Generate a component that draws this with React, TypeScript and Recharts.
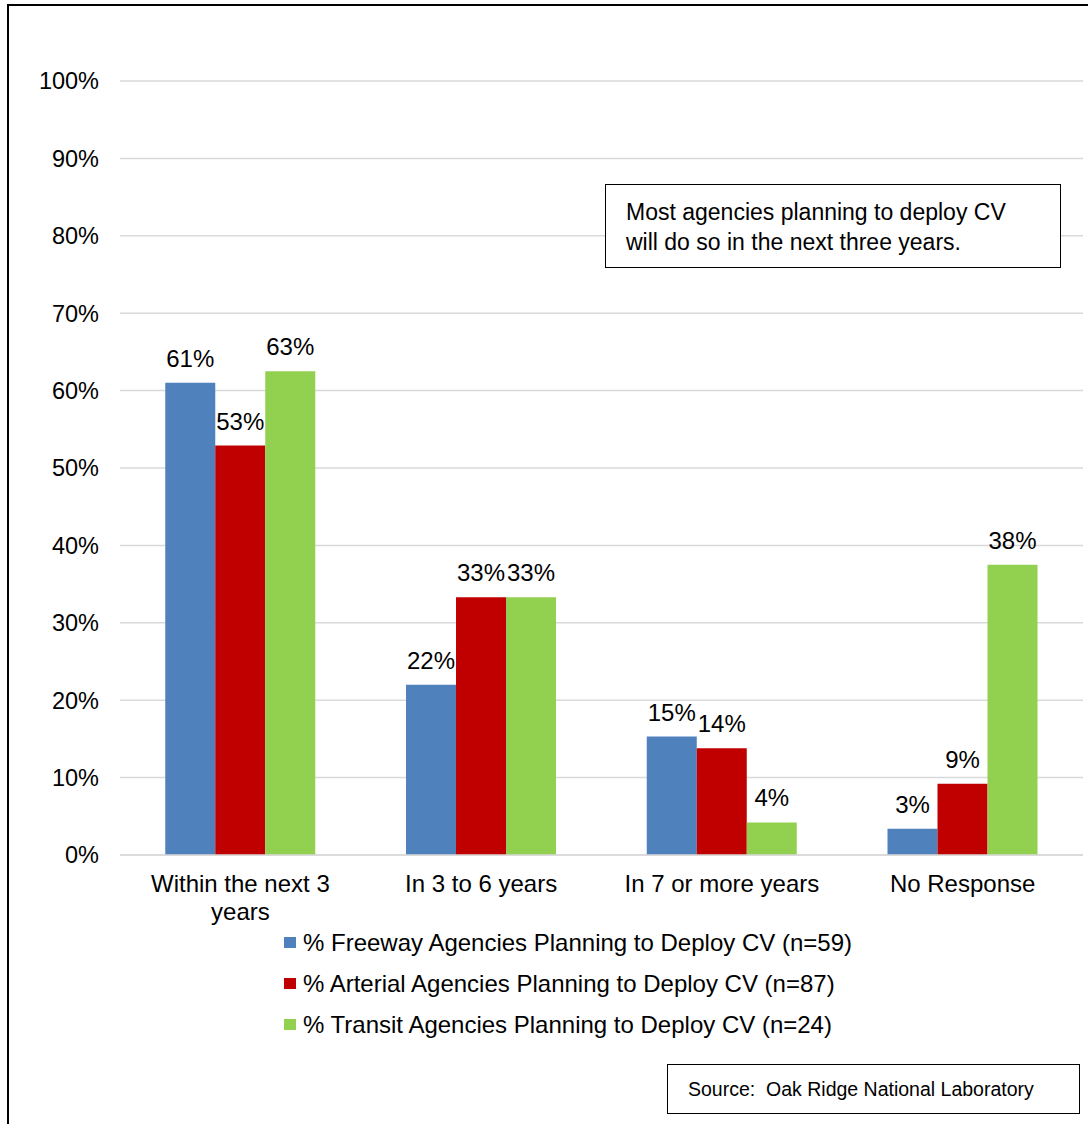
import React from 'react';
import { BarChart, Bar, XAxis, YAxis, CartesianGrid, LabelList } from 'recharts';

const categories = ['Within the next 3 years', 'In 3 to 6 years', 'In 7 or more years', 'No Response'];
const categoryTickLines = [['Within the next 3', 'years'], ['In 3 to 6 years'], ['In 7 or more years'], ['No Response']];
const freewayValues = [61.0, 22.0, 15.3, 3.4];
const arterialValues = [52.9, 33.3, 13.8, 9.2];
const transitValues = [62.5, 33.3, 4.2, 37.5];
const yTicks = [0, 10, 20, 30, 40, 50, 60, 70, 80, 90, 100];

const seriesKeys = ['freeway', 'arterial', 'transit'];
const seriesNames = [
  '% Freeway Agencies Planning to Deploy CV (n=59)',
  '% Arterial Agencies Planning to Deploy CV (n=87)',
  '% Transit Agencies Planning to Deploy CV (n=24)',
];
const seriesColors = ['#4F81BD', '#C00000', '#92D050'];

const annotationLines = ['Most agencies planning to deploy CV', 'will do so in the next three years.'];
const sourceText = 'Source:  Oak Ridge National Laboratory';

const data = categories.map((c, i) => ({
  category: c,
  freeway: freewayValues[i],
  arterial: arterialValues[i],
  transit: transitValues[i],
}));

const FONT = '"Liberation Sans", Arial, sans-serif';

const XTick = (props: any) => {
  const { x, y, index } = props;
  const lines = categoryTickLines[index] || [props.payload.value];
  return (
    <text x={x} y={y} textAnchor="middle" fill="#000" style={{ fontSize: 24, fontFamily: FONT }}>
      {lines.map((l: string, i: number) => (
        <tspan key={i} x={x} dy={i === 0 ? 17 : 28}>
          {l}
        </tspan>
      ))}
    </text>
  );
};

export default function App() {
  return (
    <div
      style={{
        position: 'absolute',
        left: 0,
        top: 0,
        width: 1088,
        height: 1124,
        background: '#fff',
        fontFamily: FONT,
        overflow: 'hidden',
      }}
    >
      <BarChart
        width={1088}
        height={1124}
        data={data}
        margin={{ top: 81, right: 5, bottom: 239, left: 0 }}
        barCategoryGap="18.8%"
        barGap={0}
      >
        <CartesianGrid vertical={false} stroke="#D9D9D9" strokeWidth={1.5} />
        <YAxis
          domain={[0, 100]}
          ticks={yTicks}
          tickFormatter={(v: number) => `${v}%`}
          axisLine={false}
          tickLine={false}
          tickSize={0}
          tickMargin={21}
          width={120}
          interval={0}
          tick={{ fill: '#000', fontSize: 23.5, fontFamily: FONT }}
        />
        <XAxis
          dataKey="category"
          axisLine={{ stroke: '#D9D9D9', strokeWidth: 1.5 }}
          tickLine={false}
          tickSize={0}
          tickMargin={20}
          interval={0}
          tick={<XTick />}
        />
        {seriesKeys.map((k, i) => (
          <Bar key={k} dataKey={k} name={seriesNames[i]} fill={seriesColors[i]} isAnimationActive={false}>
            <LabelList
              dataKey={k}
              position="top"
              offset={16}
              formatter={(v: any) => `${Math.round(Number(v))}%`}
              fill="#000"
              style={{ fontSize: 24, fontFamily: FONT }}
            />
          </Bar>
        ))}
      </BarChart>

      {/* outer frame */}
      <div
        style={{
          position: 'absolute',
          left: 7,
          top: 4,
          width: 1100,
          height: 1130,
          borderLeft: '2px solid #000',
          borderTop: '2px solid #000',
          boxSizing: 'border-box',
          pointerEvents: 'none',
        }}
      />

      {/* legend */}
      <div style={{ position: 'absolute', left: 284, top: 922, fontSize: 24, color: '#000' }}>
        {seriesNames.map((n, i) => (
          <div key={n} style={{ height: 41, display: 'flex', alignItems: 'center', whiteSpace: 'nowrap' }}>
            <div style={{ width: 12, height: 11, background: seriesColors[i], marginRight: 7 }} />
            <span>{n}</span>
          </div>
        ))}
      </div>

      {/* annotation */}
      <div
        style={{
          position: 'absolute',
          left: 605,
          top: 184,
          width: 456,
          height: 84,
          border: '1.5px solid #000',
          boxSizing: 'border-box',
          paddingLeft: 20,
          paddingTop: 12,
          fontSize: 23,
          lineHeight: '30px',
          color: '#000',
          background: '#fff',
        }}
      >
        {annotationLines.map((l) => (
          <div key={l} style={{ whiteSpace: 'nowrap' }}>{l}</div>
        ))}
      </div>

      {/* source */}
      <div
        style={{
          position: 'absolute',
          left: 667,
          top: 1064,
          width: 413,
          height: 50,
          border: '1.5px solid #000',
          boxSizing: 'border-box',
          paddingLeft: 20,
          display: 'flex',
          alignItems: 'center',
          fontSize: 19.5,
          color: '#000',
          whiteSpace: 'pre',
          background: '#fff',
        }}
      >
        {sourceText}
      </div>
    </div>
  );
}
